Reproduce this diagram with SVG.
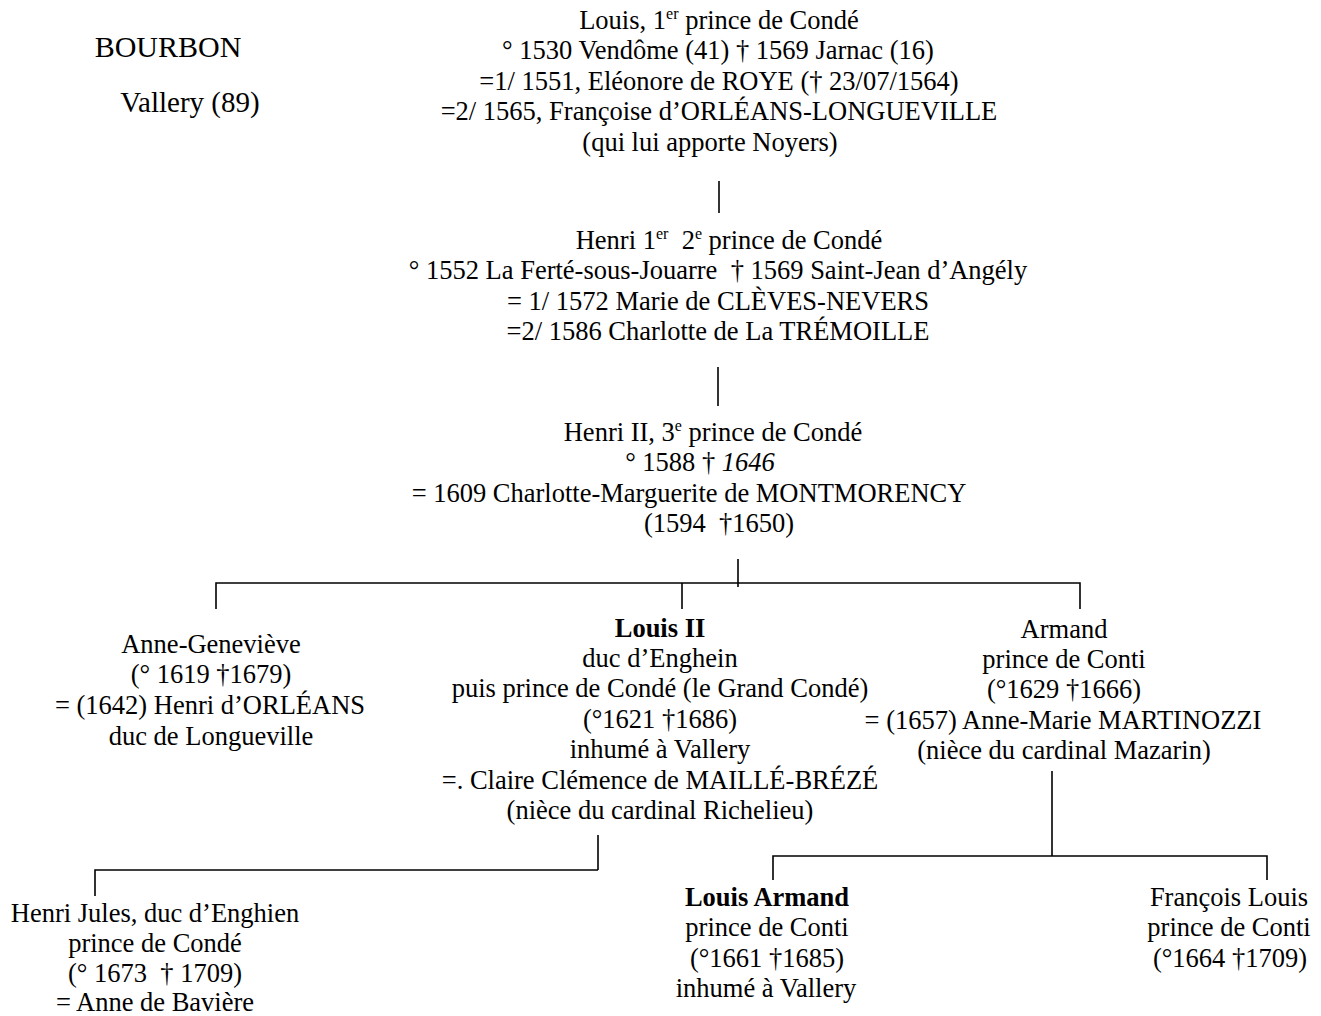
<svg xmlns="http://www.w3.org/2000/svg" width="1321" height="1016" viewBox="0 0 1321 1016">
<style>
text{font-family:"Liberation Serif","Times New Roman",serif;font-size:26.5px;fill:#000;text-anchor:middle}
.b{font-weight:bold}
.i{font-style:italic}
.sup{font-size:16px}
.ttl{font-size:30px}
.sub{font-size:29px}
.ln{stroke:#000;stroke-width:1.6;fill:none}
</style>
<rect width="1321" height="1016" fill="#fff"/>
<g id="title">
<text class="ttl" x="168" y="57">BOURBON</text>
<text class="sub" x="190" y="112">Vallery (89)</text>
</g>
<g id="louis1">
<text x="719" y="29">Louis, 1<tspan class="sup" dy="-10">er</tspan><tspan dy="10"> prince de Condé</tspan></text>
<text x="718" y="59">° 1530 Vendôme (41) † 1569 Jarnac (16)</text>
<text x="719" y="90">=1/ 1551, Eléonore de ROYE († 23/07/1564)</text>
<text x="719" y="120">=2/ 1565, Françoise d’ORLÉANS-LONGUEVILLE</text>
<text x="710" y="151">(qui lui apporte Noyers)</text>
</g>
<g id="henri1">
<text x="729" y="249" xml:space="preserve">Henri 1<tspan class="sup" dy="-10">er</tspan><tspan dy="10">  2</tspan><tspan class="sup" dy="-10">e</tspan><tspan dy="10"> prince de Condé</tspan></text>
<text x="718" y="279" xml:space="preserve">° 1552 La Ferté-sous-Jouarre  † 1569 Saint-Jean d’Angély</text>
<text x="718" y="310">= 1/ 1572 Marie de CLÈVES-NEVERS</text>
<text x="718" y="340">=2/ 1586 Charlotte de La TRÉMOILLE</text>
</g>
<g id="henri2">
<text x="713" y="441">Henri II, 3<tspan class="sup" dy="-10">e</tspan><tspan dy="10"> prince de Condé</tspan></text>
<text x="700" y="471">° 1588 † <tspan class="i">1646</tspan></text>
<text x="689" y="502">= 1609 Charlotte-Marguerite de MONTMORENCY</text>
<text x="719" y="532" xml:space="preserve">(1594  †1650)</text>
</g>
<g id="anne-genevieve">
<text x="211" y="653">Anne-Geneviève</text>
<text x="211" y="683">(° 1619 †1679)</text>
<text x="210" y="714">= (1642) Henri d’ORLÉANS</text>
<text x="211" y="745">duc de Longueville</text>
</g>
<g id="louis2">
<text class="b" x="660" y="637">Louis II</text>
<text x="660" y="667">duc d’Enghein</text>
<text x="660" y="697">puis prince de Condé (le Grand Condé)</text>
<text x="660" y="728">(°1621 †1686)</text>
<text x="660" y="758">inhumé à Vallery</text>
<text x="660" y="789">=. Claire Clémence de MAILLÉ-BRÉZÉ</text>
<text x="660" y="819">(nièce du cardinal Richelieu)</text>
</g>
<g id="armand">
<text x="1064" y="638">Armand</text>
<text x="1064" y="668">prince de Conti</text>
<text x="1064" y="698">(°1629 †1666)</text>
<text x="1063" y="729">= (1657) Anne-Marie MARTINOZZI</text>
<text x="1064" y="759">(nièce du cardinal Mazarin)</text>
</g>
<g id="henri-jules">
<text x="155" y="922">Henri Jules, duc d’Enghien</text>
<text x="155" y="952">prince de Condé</text>
<text x="155" y="982" xml:space="preserve">(° 1673  † 1709)</text>
<text x="155" y="1011">= Anne de Bavière</text>
</g>
<g id="louis-armand">
<text class="b" x="767" y="906">Louis Armand</text>
<text x="767" y="936">prince de Conti</text>
<text x="767" y="967">(°1661 †1685)</text>
<text x="766" y="997">inhumé à Vallery</text>
</g>
<g id="francois-louis">
<text x="1229" y="906">François Louis</text>
<text x="1229" y="936">prince de Conti</text>
<text x="1230" y="967">(°1664 †1709)</text>
</g>
<g id="connectors" class="ln">
<line x1="719" y1="181" x2="719" y2="213"/>
<line x1="718" y1="367" x2="718" y2="406"/>
<line x1="738" y1="559" x2="738" y2="587"/>
<polyline points="216,609 216,583 1080,583 1080,609"/>
<line x1="682" y1="583" x2="682" y2="609"/>
<line x1="598" y1="835" x2="598" y2="870"/>
<polyline points="95,896 95,870 598,870"/>
<line x1="1052" y1="771" x2="1052" y2="856"/>
<polyline points="773,880 773,856 1267,856 1267,880"/>
</g>
</svg>
